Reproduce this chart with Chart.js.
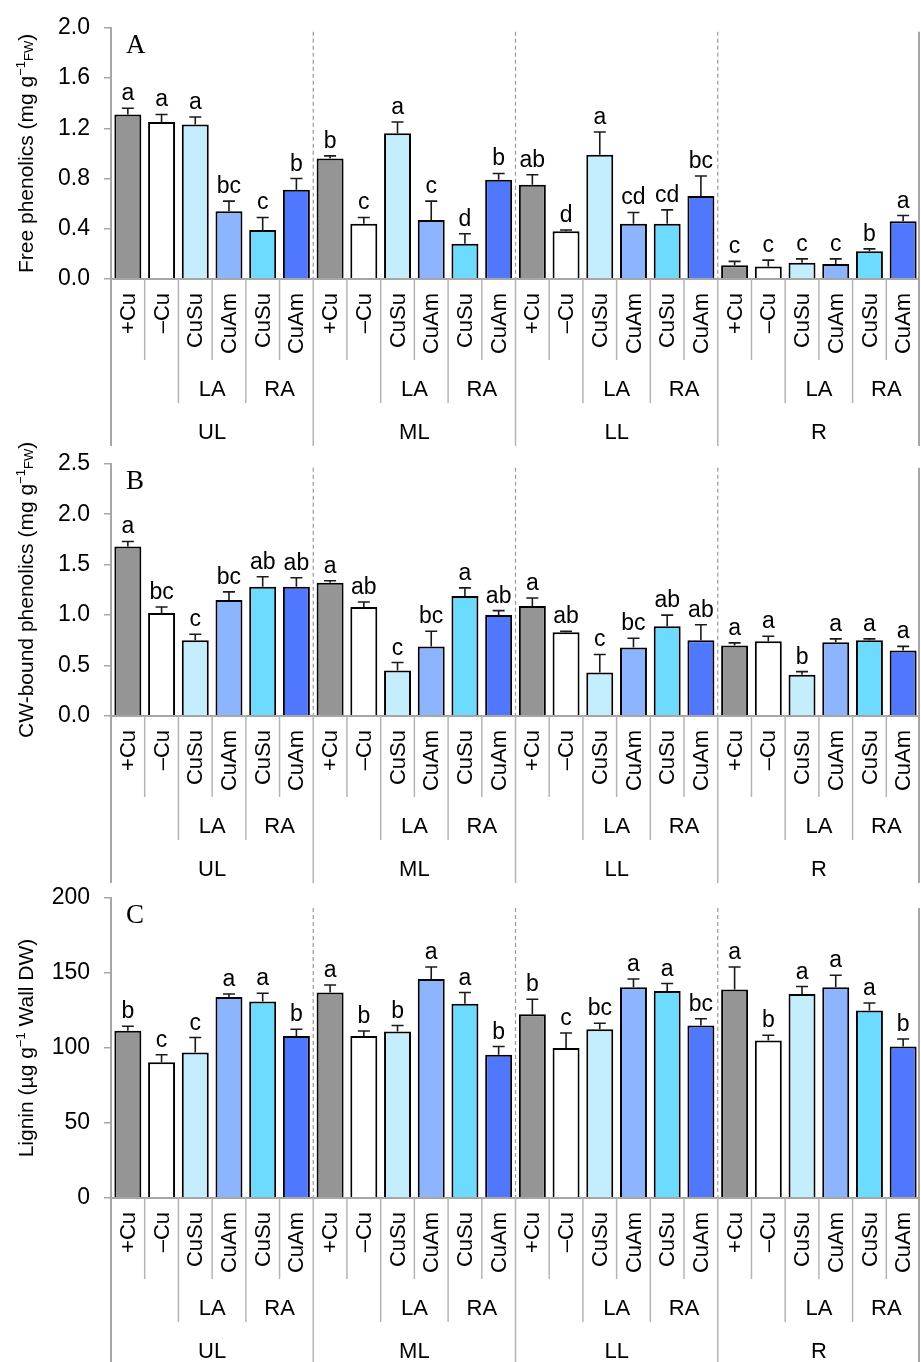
<!DOCTYPE html>
<html><head><meta charset="utf-8">
<script src="https://cdn.jsdelivr.net/npm/chart.js@4.4.1/dist/chart.umd.min.js"></script>
<style>
html,body{margin:0;padding:0;background:#fff;}
#wrap{position:relative;width:921px;height:1362px;overflow:hidden;}
canvas{position:absolute;left:0;}
</style></head><body>
<div id="wrap">
<canvas id="cA" width="921" height="450" style="top:0px"></canvas>
<canvas id="cB" width="921" height="451" style="top:436px"></canvas>
<canvas id="cC" width="921" height="492" style="top:870px"></canvas>
</div>
<script>
// ---- categories ----
const groups = ['UL','ML','LL','R'];
const treatments = ['+Cu','–Cu','CuSu','CuAm','CuSu','CuAm'];
const sites = ['LA','RA'];
const treatColors = ['#959595','#ffffff','#c4eefd','#8cb4ff','#6ddbfe','#5078ff'];

// ---- Panel A: free phenolics ----
const freeVals = [1.31,1.25,1.23,0.54,0.39,0.71, 0.96,0.44,1.16,0.47,0.28,0.79, 0.75,0.38,0.99,0.44,0.44,0.66, 0.11,0.10,0.13,0.12,0.22,0.46];
const freeErr  = [0.05,0.06,0.06,0.08,0.10,0.09, 0.02,0.05,0.09,0.15,0.08,0.05, 0.08,0.01,0.18,0.09,0.11,0.16, 0.03,0.05,0.03,0.04,0.02,0.045];
const freeLetters = ['a','a','a','bc','c','b', 'b','c','a','c','d','b', 'ab','d','a','cd','cd','bc', 'c','c','c','c','b','a'];
const freeTicks = [0,0.4,0.8,1.2,1.6,2.0];

// ---- Panel B: CW-bound phenolics ----
const cwVals = [1.68,1.02,0.75,1.15,1.28,1.28, 1.32,1.08,0.45,0.69,1.19,1.00, 1.09,0.83,0.43,0.68,0.89,0.75, 0.70,0.74,0.41,0.73,0.75,0.65];
const cwErr  = [0.05,0.06,0.06,0.08,0.10,0.09, 0.02,0.05,0.08,0.15,0.08,0.045, 0.08,0.01,0.18,0.09,0.11,0.155, 0.025,0.05,0.03,0.035,0.015,0.04];
const cwLetters = ['a','bc','c','bc','ab','ab', 'a','ab','c','bc','a','ab', 'a','ab','c','bc','ab','ab', 'a','a','b','a','a','a'];
const cwTicks = [0,0.5,1.0,1.5,2.0,2.5];

// ---- Panel C: lignin ----
const ligVals = [111.5,90.5,97,134,131,108, 137,108,111,146,129.5,95.5, 122.5,100,112.5,140.5,138,115, 139,105,136,140.5,125,101];
const ligErr  = [3,5,10,2,5.5,4.5, 5,3.3,4,8,7.5,5.5, 10,10,4,5.5,5,4.5, 15,3.5,5,8,5,5];
const ligLetters = ['b','c','c','a','a','b', 'a','b','b','a','a','b', 'b','c','bc','a','a','bc', 'a','b','a','a','a','b'];
const ligTicks = [0,50,100,150,200];

const categories = groups.flatMap(() => treatments);
const barColors = groups.flatMap(() => treatColors);

const SANS = '"Liberation Sans", Arial, sans-serif';
const SERIF = '"Liberation Serif", "Times New Roman", serif';
const AXIS_COLOR = '#a6a6a6';

const panelPlugin = {
  id: 'panelDecor',
  afterDatasetsDraw(chart, args, opts) {
    const ctx = chart.ctx;
    const xs = chart.scales.x, ys = chart.scales.y;
    const ca = chart.chartArea;
    const axisY = ys.getPixelForValue(0);
    const n = categories.length;
    ctx.save();
    // error bars
    ctx.strokeStyle = '#1a1a1a';
    ctx.lineWidth = 1.6;
    for (let i = 0; i < n; i++) {
      const x = xs.getPixelForValue(i);
      const yb = ys.getPixelForValue(opts.vals[i]);
      const yt = ys.getPixelForValue(opts.vals[i] + opts.err[i]);
      ctx.beginPath();
      ctx.moveTo(x, yb); ctx.lineTo(x, yt);
      ctx.moveTo(x - 6, yt); ctx.lineTo(x + 6, yt);
      ctx.stroke();
      // letters
      ctx.fillStyle = '#000';
      ctx.font = '23px ' + SANS;
      ctx.textAlign = 'center';
      ctx.textBaseline = 'alphabetic';
      ctx.fillText(opts.letters[i], x, yt - 8);
    }
    // dashed group separators
    ctx.strokeStyle = '#9a9a9a';
    ctx.lineWidth = 1.2;
    ctx.setLineDash([4, 3]);
    for (let g = 1; g < groups.length; g++) {
      const bx = xs.getPixelForValue(g * 6 - 0.5);
      ctx.beginPath();
      ctx.moveTo(bx, ca.top + opts.dashOff);
      ctx.lineTo(bx, axisY);
      ctx.stroke();
    }
    ctx.setLineDash([]);
    // x axis line
    ctx.strokeStyle = AXIS_COLOR;
    ctx.lineWidth = 2;
    ctx.beginPath();
    ctx.moveTo(ca.left, axisY); ctx.lineTo(ca.right, axisY);
    ctx.stroke();
    // right border line
    ctx.beginPath();
    ctx.moveTo(ca.right - 1, ca.top + opts.dashOff);
    ctx.lineTo(ca.right - 1, axisY + 167);
    ctx.stroke();
    // left axis extension
    ctx.beginPath();
    ctx.moveTo(ca.left, axisY); ctx.lineTo(ca.left, axisY + 167);
    ctx.stroke();
    // category separators
    ctx.lineWidth = 1.5;
    ctx.strokeStyle = '#b4b4b4';
    for (let k = 1; k < n; k++) {
      const bx = xs.getPixelForValue(k - 0.5);
      let depth = 81;
      if (k % 6 === 0) depth = 167;
      else if (k % 6 === 2 || k % 6 === 4) depth = 124;
      ctx.beginPath();
      ctx.moveTo(bx, axisY); ctx.lineTo(bx, axisY + depth);
      ctx.stroke();
    }
    // level 1 rotated labels
    ctx.fillStyle = '#000';
    ctx.font = '22px ' + SANS;
    for (let i = 0; i < n; i++) {
      const x = xs.getPixelForValue(i);
      ctx.save();
      ctx.translate(x, axisY + 14);
      ctx.rotate(-Math.PI / 2);
      ctx.textAlign = 'right';
      ctx.textBaseline = 'middle';
      ctx.fillText(categories[i], 0, 1);
      ctx.restore();
    }
    // level 2: LA / RA, level 3: groups
    ctx.textAlign = 'center';
    ctx.textBaseline = 'middle';
    for (let g = 0; g < groups.length; g++) {
      ctx.fillText(sites[0], xs.getPixelForValue(g * 6 + 2.5), axisY + 111);
      ctx.fillText(sites[1], xs.getPixelForValue(g * 6 + 4.5), axisY + 111);
      ctx.fillText(groups[g], xs.getPixelForValue(g * 6 + 2.5), axisY + 154);
    }
    // panel letter
    ctx.font = '27px ' + SERIF;
    ctx.textAlign = 'left';
    ctx.textBaseline = 'alphabetic';
    ctx.fillText(opts.panel, ca.left + 15, ca.top + 25);
    // y title with superscript
    const parts = opts.title;
    let total = 0;
    parts.forEach(p => { ctx.font = p.size + 'px ' + SANS; p.w = ctx.measureText(p.t).width; total += p.w; });
    ctx.save();
    ctx.translate(33, (ca.top + ca.bottom) / 2);
    ctx.rotate(-Math.PI / 2);
    let cx = -total / 2;
    ctx.textAlign = 'left';
    ctx.textBaseline = 'alphabetic';
    parts.forEach(p => {
      ctx.font = p.size + 'px ' + SANS;
      ctx.fillText(p.t, cx, -(p.raise || 0));
      cx += p.w;
    });
    ctx.restore();
    ctx.restore();
  }
};

function makeChart(id, vals, err, letters, ticks, panel, title, pad, dashOff, fmt) {
  const tmin = ticks[0], tmax = ticks[ticks.length - 1];
  return new Chart(document.getElementById(id), {
    type: 'bar',
    data: {
      labels: categories,
      datasets: [{
        data: vals,
        backgroundColor: barColors,
        borderColor: '#000',
        borderWidth: 2,
        barPercentage: 0.8,
        categoryPercentage: 1.0
      }]
    },
    options: {
      responsive: false,
      animation: false,
      layout: { padding: { top: pad[0], bottom: pad[1], left: 0, right: 1 } },
      plugins: {
        legend: { display: false },
        tooltip: { enabled: false },
        panelDecor: { vals, err, letters, panel, title, dashOff }
      },
      scales: {
        x: { display: false, offset: true },
        y: {
          min: tmin, max: tmax,
          afterBuildTicks: s => { s.ticks = ticks.map(v => ({ value: v })); },
          afterFit: s => { s.width = 111; },
          ticks: {
            color: '#000',
            padding: 14,
            font: { size: 23, family: SANS },
            callback: v => fmt(v)
          },
          grid: { drawOnChartArea: false, drawTicks: true, tickLength: 7, color: AXIS_COLOR, lineWidth: 1.5 },
          border: { display: true, color: AXIS_COLOR, width: 2 }
        }
      }
    },
    plugins: [panelPlugin]
  });
}

const sup = 13;
makeChart('cA', freeVals, freeErr, freeLetters, freeTicks, 'A',
  [{ t: 'Free phenolics (mg g', size: 21 }, { t: '−1', size: sup, raise: 8 }, { t: 'FW', size: sup, raise: 0 }, { t: ')', size: 21 }],
  [23, 171], 4, v => v.toFixed(1));
makeChart('cB', cwVals, cwErr, cwLetters, cwTicks, 'B',
  [{ t: 'CW-bound phenolics (mg g', size: 21 }, { t: '−1', size: sup, raise: 8 }, { t: 'FW', size: sup, raise: 0 }, { t: ')', size: 21 }],
  [24, 171], 4, v => v.toFixed(1));
makeChart('cC', ligVals, ligErr, ligLetters, ligTicks, 'C',
  [{ t: 'Lignin (µg g', size: 21 }, { t: '−1', size: sup, raise: 8 }, { t: ' Wall DW)', size: 21 }],
  [28, 164], 10, v => String(v));
</script>
</body></html>
